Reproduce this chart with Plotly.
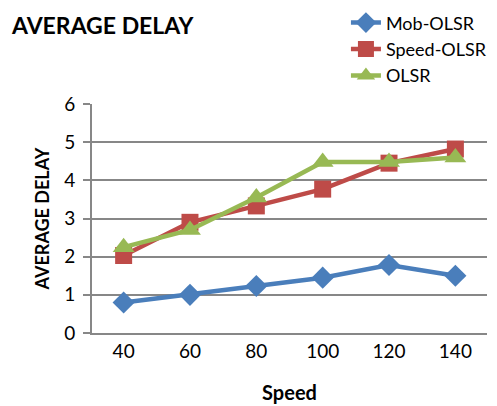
import plotly.graph_objects as go

speeds = ["40", "60", "80", "100", "120", "140"]
mob_olsr = [0.8, 1.0, 1.23, 1.45, 1.78, 1.5]
speed_olsr = [2.03, 2.9, 3.33, 3.77, 4.45, 4.82]
olsr = [2.25, 2.7, 3.55, 4.48, 4.48, 4.6]
y_ticks = [0, 1, 2, 3, 4, 5, 6]

FONT = "Lato, Open Sans, sans-serif"

series = [
    ("Mob-OLSR", mob_olsr, "#4a7ebb", "diamond", 17),
    ("Speed-OLSR", speed_olsr, "#be4b48", "square", 17),
    ("OLSR", olsr, "#98b954", "triangle-up", 19),
]

fig = go.Figure()
for name, vals, color, symbol, size in series:
    fig.add_trace(go.Scatter(
        x=speeds, y=vals, name=name, mode="lines+markers",
        line=dict(color=color, width=4.5),
        marker=dict(symbol=symbol, size=size, color=color),
    ))

fig.update_layout(
    width=497, height=406,
    margin=dict(l=92, r=5, t=102, b=71),
    paper_bgcolor="white", plot_bgcolor="white",
    font=dict(family=FONT, size=19, color="black"),
    showlegend=True,
    legend=dict(
        x=1.0125, y=1.435, xanchor="right", yanchor="top",
        font=dict(size=18, color="black"),
        tracegroupgap=0, itemwidth=30,
        bgcolor="rgba(0,0,0,0)",
    ),
    annotations=[dict(
        text="<b>AVERAGE DELAY</b>", xref="paper", yref="paper",
        x=-0.21, y=1.345, xanchor="left", yanchor="middle",
        showarrow=False, font=dict(size=23, family=FONT, color="black"),
    )],
)

fig.update_xaxes(
    type="category",
    showline=True, linecolor="#878787", linewidth=2,
    showgrid=False, ticks="", tickfont=dict(size=19),
    title=dict(text="<b>Speed</b>", font=dict(size=20), standoff=25),
)
fig.update_yaxes(
    range=[0, 6], tickvals=y_ticks,
    showline=True, linecolor="#878787", linewidth=2,
    showgrid=True, gridcolor="#878787", gridwidth=2,
    ticks="outside", ticklen=7, tickcolor="#878787", tickwidth=2,
    tickfont=dict(size=19), ticklabelstandoff=4,
    title=dict(text="<b>AVERAGE DELAY</b>", font=dict(size=18), standoff=10),
    zeroline=False,
)

fig.write_html("out.html")
